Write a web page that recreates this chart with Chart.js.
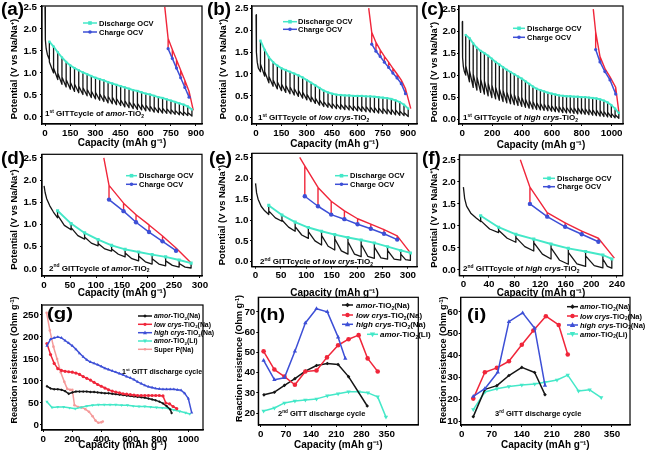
<!DOCTYPE html>
<html><head><meta charset="utf-8">
<script src="https://cdn.jsdelivr.net/npm/chart.js@4.4.1/dist/chart.umd.min.js"></script>
<style>html,body{margin:0;padding:0;background:#fff}body{width:649px;height:454px;position:relative;overflow:hidden}canvas{position:absolute}</style>
</head><body>
<script>
// ================= DATA =================
// ---- (a) 1st GITT amor-TiO2 ----
const initQA = [0,1,3,7,14,26];
const initVA = [2.50,2.05,1.75,1.55,1.42,1.30];
const qA = [26,51,76,101,126,151,176,201,226,251,276,301,326,351,376,401,426,451,476,501,526,551,576,601,626,651,676,701,726,751,776,801,826,851,876];
const ocvA = [1.71,1.60,1.47,1.35,1.25,1.17,1.11,1.06,1.01,0.97,0.93,0.89,0.86,0.83,0.79,0.76,0.73,0.70,0.67,0.64,0.61,0.59,0.56,0.53,0.51,0.48,0.45,0.43,0.40,0.37,0.34,0.31,0.28,0.24,0.17];
const dropA = [1.25,1.11,1.00,0.91,0.85,0.79,0.75,0.70,0.67,0.63,0.59,0.56,0.53,0.50,0.47,0.45,0.42,0.39,0.37,0.35,0.32,0.31,0.29,0.27,0.25,0.23,0.22,0.20,0.19,0.17,0.15,0.13,0.12,0.10];
const endA = [1.00,0.85,0.74,0.68,0.63,0.58,0.55,0.51,0.48,0.44,0.41,0.38,0.35,0.32,0.30,0.28,0.26,0.23,0.21,0.19,0.17,0.16,0.14,0.13,0.11,0.10,0.09,0.08,0.07,0.06,0.05,0.04,0.03,0.02];
const chgQA = [734,759,784,809,834,859];
const chgOcvA = [1.55,1.33,1.11,0.89,0.67,0.45];
const chgPeakA = [1.78,1.53,1.30,1.06,0.83,0.58];
const redEndsA = [[884,0.15],[714,2.50]];

// ---- (b) 1st GITT low crys-TiO2 ----
const initQB = [0,1,3,7,14,26];
const initVB = [2.35,1.85,1.50,1.27,1.13,1.05];
const qB = [26,51,76,101,126,151,176,201,226,251,276,301,326,351,376,401,426,451,476,501,526,551,576,601,626,651,676,701,726,751,776,801,826,851,876,901];
const ocvB = [1.76,1.55,1.38,1.27,1.19,1.13,1.09,1.05,1.01,0.97,0.92,0.86,0.80,0.74,0.68,0.62,0.58,0.55,0.53,0.52,0.51,0.51,0.50,0.50,0.50,0.49,0.49,0.48,0.47,0.46,0.45,0.43,0.40,0.36,0.30,0.21];
const dropB = [1.23,1.06,0.95,0.87,0.82,0.77,0.74,0.71,0.67,0.63,0.59,0.54,0.49,0.45,0.41,0.37,0.35,0.33,0.32,0.31,0.30,0.29,0.28,0.27,0.27,0.26,0.25,0.24,0.23,0.22,0.21,0.20,0.18,0.16,0.12];
const endB = [0.95,0.80,0.72,0.66,0.62,0.58,0.55,0.52,0.49,0.45,0.41,0.37,0.33,0.29,0.26,0.24,0.22,0.21,0.20,0.19,0.18,0.17,0.16,0.15,0.14,0.13,0.12,0.11,0.10,0.09,0.08,0.07,0.06,0.05,0.03];
const chgQB = [685,710,735,760,785,810,835,860,885];
const chgOcvB = [1.68,1.52,1.40,1.27,1.15,1.02,0.91,0.78,0.55];
const chgPeakB = [1.95,1.72,1.55,1.40,1.27,1.13,1.00,0.86,0.66];
const redEndsB = [[916,0.21],[667,2.50]];

// ---- (c) 1st GITT high crys-TiO2 ----
const initQC = [0,1,3,7,14,23];
const initVC = [2.22,1.75,1.40,1.20,1.08,1.00];
const qC = [23,48,73,98,123,148,173,198,223,248,273,298,323,348,373,398,423,448,473,498,523,548,573,598,623,648,673,698,723,748,773,798,823,848,873,898,923,948,973,998,1023,1048];
const ocvC = [1.91,1.84,1.72,1.62,1.55,1.50,1.44,1.37,1.30,1.24,1.18,1.12,1.07,1.02,0.97,0.92,0.86,0.80,0.74,0.69,0.66,0.63,0.60,0.58,0.56,0.54,0.53,0.52,0.52,0.51,0.51,0.50,0.50,0.49,0.48,0.47,0.45,0.42,0.38,0.32,0.24,0.14];
const dropC = [1.22,1.11,1.03,0.96,0.91,0.87,0.82,0.78,0.73,0.69,0.65,0.62,0.59,0.56,0.53,0.50,0.46,0.43,0.40,0.38,0.36,0.34,0.33,0.31,0.30,0.29,0.28,0.27,0.27,0.26,0.26,0.25,0.24,0.23,0.22,0.21,0.20,0.18,0.16,0.13,0.10];
const endC = [0.85,0.72,0.66,0.61,0.57,0.53,0.49,0.46,0.43,0.40,0.37,0.35,0.33,0.31,0.29,0.27,0.25,0.23,0.22,0.21,0.20,0.19,0.18,0.17,0.16,0.15,0.14,0.14,0.13,0.12,0.12,0.11,0.10,0.09,0.08,0.07,0.06,0.05,0.04,0.03,0.02];
const chgQC = [893,922,955,989,1027];
const chgOcvC = [1.58,1.30,1.08,0.89,0.57];
const chgPeakC = [1.98,1.42,1.15,0.96,0.72];
const redEndsC = [[1049,0.14],[877,2.50]];

// ---- (d) 2nd GITT amor-TiO2 ----
const initQD = [0,2,5,11,18,26];
const initVD = [1.87,1.72,1.58,1.42,1.28,1.15];
const qD = [26,52,78,104,130,156,182,208,234,260,283];
const ocvD = [1.31,1.02,0.81,0.66,0.53,0.44,0.38,0.32,0.27,0.20,0.13];
const dropD = [1.21,0.93,0.72,0.57,0.45,0.36,0.29,0.23,0.18,0.12];
const midD = [0.98,0.75,0.58,0.45,0.33,0.23,0.16,0.11,0.08,0.04];
const endD = [0.88,0.67,0.52,0.40,0.27,0.18,0.11,0.07,0.04,0.02];
const chgQD = [125,153,177,202,228,254];
const chgOcvD = [1.56,1.30,1.05,0.83,0.62,0.41];
const chgPeakD = [1.88,1.48,1.22,0.99,0.74,0.47];
const redEndsD = [[283,0.13],[115,2.50]];

// ---- (e) 2nd GITT low crys-TiO2 ----
const initQE = [0,2,5,11,18,26];
const initVE = [1.88,1.65,1.50,1.33,1.22,1.13];
const qE = [26,52,78,104,130,156,182,208,234,260,286,305];
const ocvE = [1.35,1.12,0.95,0.82,0.73,0.65,0.58,0.52,0.45,0.36,0.27,0.21];
const dropE = [1.22,1.00,0.84,0.72,0.63,0.55,0.48,0.42,0.35,0.27,0.18];
const midE = [1.05,0.83,0.64,0.50,0.37,0.26,0.18,0.13,0.09,0.06,0.05];
const endE = [0.97,0.73,0.56,0.40,0.28,0.18,0.12,0.08,0.06,0.04,0.03];
const chgQE = [97,123,149,175,201,227,253,279];
const chgOcvE = [1.57,1.33,1.13,1.02,0.90,0.79,0.67,0.53];
const chgPeakE = [2.30,1.78,1.45,1.22,1.03,0.90,0.77,0.62];
const redEndsE = [[305,0.21],[87,2.50]];

// ---- (f) 2nd GITT high crys-TiO2 ----
const initQF = [0,2,5,12,20,27];
const initVF = [1.88,1.62,1.45,1.28,1.18,1.10];
const qF = [27,55,82,110,137,164,191,218,232];
const ocvF = [1.23,0.97,0.81,0.70,0.59,0.49,0.42,0.34,0.25];
const dropF = [1.12,0.90,0.74,0.62,0.50,0.40,0.32,0.25];
const midF = [0.93,0.72,0.53,0.36,0.22,0.14,0.10,0.08];
const endF = [0.85,0.63,0.43,0.25,0.13,0.08,0.05,0.04];
const chgQF = [104,131,159,185,211];
const chgOcvF = [1.50,1.21,0.98,0.81,0.64];
const chgPeakF = [1.88,1.30,1.07,0.88,0.72];
const redEndsF = [[236,0.27],[89,2.50]];

// ---- (g) reaction resistance, 1st GITT discharge ----
const gAmorNaQ = [25,50,75,100,125,150,175,200,225,250,275,300,325,350,375,400,425,450,475,500,525,550,575,600,625,650,675,700,725,750,775,800,825,850,875,885];
const gAmorNaR = [88,83,81,81,80,77,71,74,76,76,76,76,75,75,74,73,72,72,71,70,69,68,67,66,65,64,63,62,60,58,56,53,49,43,35,27];
const gLowNaQ = [25,50,75,100,125,150,175,200,225,250,275,300,325,350,375,400,425,450,475,500,525,550,575,600,625,650,675,700,725,750,775,800,825,845,870,895,920];
const gLowNaR = [185,160,140,128,124,122,121,120,118,115,110,106,102,97,92,88,84,80,77,75,73,71,70,69,68,67,67,67,67,67,67,67,66,50,48,42,37];
const gHighNaQ = [25,50,75,100,125,150,175,200,225,250,275,300,325,350,375,400,425,450,475,500,525,550,575,600,625,650,675,700,725,750,775,800,825,850,875,900,925,950,975,1000,1023];
const gHighNaR = [180,195,198,200,198,192,186,180,172,163,155,148,143,140,137,133,129,126,123,120,117,114,110,107,103,98,94,90,87,85,83,82,81,81,81,81,80,79,72,60,28];
const gAmorLiQ = [25,60,100,140,180,220,260,300,340,380,420,460,500,540,580,620,660,700,740,780,820,860,900,940,980,1010];
const gAmorLiR = [53,40,41,41,39,37,40,43,45,46,46,46,46,45,45,43,42,42,41,40,39,38,34,31,28,25];
const gSuperPQ = [23,45,70,95,120,145,165,185,200,215,240,265,290,315,340,360,380,400,410];
const gSuperPR = [255,215,178,150,120,98,82,80,80,45,41,40,36,30,20,10,5,6,8];

// ---- (h) 2nd GITT discharge ----
const hAmorNaQ = [9,38,66,95,124,155,185,215,244,296];
const hAmorNaR = [29,30.3,33.7,37,40.7,43.5,44.5,44,38,23.5];
const hLowNaQ = [8,38,66,95,124,155,184,215,244,272,297,325];
const hLowNaR = [50.5,41.5,38,34,40.5,41,47.5,53.5,56.5,58.5,47,40.5];
const hHighNaQ = [8,38,66,95,124,155,185,215,235];
const hHighNaR = [46,36.5,37.5,50.5,64.5,71.5,70,57.5,47];
const hAmorLiQ = [8,38,66,95,124,155,185,215,244,272,298,325,348];
const hAmorLiR = [21,22.5,25,26,26.5,27,28.5,29.5,30.5,30.5,30,28,18];

// ---- (i) 3rd GITT discharge ----
const iAmorNaQ = [27,54,82,110,140,170,194];
const iAmorNaR = [12.3,24.7,26.4,31,34.7,32.4,22.3];
const iLowNaQ = [27,54,82,110,140,167,196,226,247];
const iLowNaR = [20.5,32.5,34.5,37.5,45,51.5,58,54,40.6];
const iHighNaQ = [27,54,84,110,142,170,194];
const iHighNaR = [21.5,25,32.5,55.5,59.5,52.5,26.5];
const iAmorLiQ = [27,54,82,110,140,170,194,222,247,272,298,325];
const iAmorLiR = [15.5,23.5,25,26,26.7,27.2,28,29,31.2,24,24.5,21];

// ---- tick labels ----
const xTicksAB = [0,150,300,450,600,750,900];
const xTicksC = [0,200,400,600,800,1000];
const xTicksDE = [0,50,100,150,200,250,300];
const xTicksF = [0,40,80,120,160,200,240];
const xTicksG = [0,200,400,600,800,1000];
const xTicksHI = [0,70,140,210,280,350];
const yTicksPot = [0,0.5,1,1.5,2,2.5];
const yTicksG = [0,50,100,150,200,250];
const yTicksH = [20,30,40,50,60,70];
const yTicksI = [10,20,30,40,50,60];

// ================= DRAWING =================
const FONT = '"Liberation Sans", Arial, Helvetica, sans-serif';
const C_BLACK = '#151515', C_CYAN = '#44e8c8', C_BLUE = '#3d4fd6', C_RED = '#f0263a', C_PINK = '#f59a9a';

function zip(q, v) { return q.map((x, i) => ({x: x, y: v[i]})); }
function gittLine(iq, iv, q, ocv, drop, mid, end) {
  const pts = zip(iq, iv);
  for (let i = 0; i < q.length; i++) {
    pts.push({x: q[i], y: ocv[i]});
    if (i < q.length - 1) {
      pts.push({x: q[i], y: drop[i]});
      if (mid) pts.push({x: (q[i] + q[i + 1]) / 2, y: mid[i]});
      pts.push({x: q[i + 1], y: end[i]});
    }
  }
  return pts;
}
function chargeLine(ends, q, ocv, peak) {
  const pts = [{x: ends[0][0], y: ends[0][1]}];
  for (let i = q.length - 1; i >= 0; i--) {
    pts.push({x: q[i], y: peak[i]}, {x: q[i], y: ocv[i]}, {x: q[i], y: peak[i]});
  }
  pts.push({x: ends[1][0], y: ends[1][1]});
  return pts;
}
function gittSets(black, red, cq, cv, bq, bv, r, bw) {
  return [
    {data: zip(bq, bv), borderColor: C_BLUE, backgroundColor: C_BLUE, borderWidth: 1.5, pointStyle: 'circle', pointRadius: r, pointBorderWidth: 0, showLine: true},
    {data: zip(cq, cv), borderColor: C_CYAN, backgroundColor: C_CYAN, borderWidth: 1.9, pointStyle: 'rect', pointRadius: r, pointBorderWidth: 0, showLine: true},
    {data: red, borderColor: C_RED, borderWidth: 1.4, pointRadius: 0, showLine: true},
    {data: black, borderColor: C_BLACK, borderWidth: bw, pointRadius: 0, showLine: true}
  ];
}
function resSet(q, v, color, style, r, rot) {
  return {data: zip(q, v), borderColor: color, backgroundColor: color, borderWidth: 1.5, pointStyle: style, pointRadius: r, pointRotation: rot || 0, pointBorderWidth: 0, showLine: true};
}

function rich(ctx, x, y, parts, size, align) {
  const fontFor = (f, s) => (f.includes('i') ? 'italic ' : '') + 'bold ' + s + 'px ' + FONT;
  let w = 0; const segs = [];
  for (const p of parts) {
    const t = p[0], f = p[1] || '';
    const s = (f.includes('^') || f.includes('_')) ? size * 0.62 : size;
    ctx.font = fontFor(f, s);
    const mw = ctx.measureText(t).width;
    segs.push({t, f, s, mw}); w += mw;
  }
  let cx = align === 'center' ? x - w / 2 : x;
  ctx.save(); ctx.fillStyle = '#000'; ctx.textBaseline = 'alphabetic';
  const base = y + size * 0.36;
  for (const sg of segs) {
    ctx.font = fontFor(sg.f, sg.s);
    let yy = base;
    if (sg.f.includes('^')) yy = base - size * 0.4;
    if (sg.f.includes('_')) yy = base + size * 0.22;
    ctx.fillText(sg.t, cx, yy); cx += sg.mw;
  }
  ctx.restore();
}
function vtitle(ctx, x, y, parts, size) {
  ctx.save(); ctx.translate(x, y); ctx.rotate(-Math.PI / 2);
  rich(ctx, 0, 0, parts, size, 'center'); ctx.restore();
}
function marker(ctx, style, x, y, r, color, rot) {
  ctx.save(); ctx.fillStyle = color; ctx.beginPath();
  if (style === 'circle') ctx.arc(x, y, r, 0, Math.PI * 2);
  else if (style === 'rect') ctx.rect(x - r, y - r, 2 * r, 2 * r);
  else if (style === 'rectRot') { ctx.moveTo(x, y - r * 1.3); ctx.lineTo(x + r * 1.3, y); ctx.lineTo(x, y + r * 1.3); ctx.lineTo(x - r * 1.3, y); ctx.closePath(); }
  else if (style === 'triangle') { const s = rot ? -1 : 1; ctx.moveTo(x, y - s * r * 1.2); ctx.lineTo(x + r * 1.1, y + s * r * 0.8); ctx.lineTo(x - r * 1.1, y + s * r * 0.8); ctx.closePath(); }
  ctx.fill(); ctx.restore();
}
function legendRow(ctx, it) {
  ctx.save(); ctx.strokeStyle = it.c; ctx.lineWidth = 1.5; ctx.beginPath(); ctx.moveTo(it.x1, it.y); ctx.lineTo(it.x2, it.y); ctx.stroke(); ctx.restore();
  marker(ctx, it.s, (it.x1 + it.x2) / 2, it.y, it.r, it.c, it.rot);
  rich(ctx, it.tx, it.y, it.parts, it.size);
}
function panelLabel(ctx, x, y, text, size, sx) {
  ctx.save(); ctx.translate(x, y); ctx.scale(sx, 1);
  ctx.font = 'bold ' + size + 'px ' + FONT; ctx.textBaseline = 'top'; ctx.fillStyle = '#000';
  ctx.fillText(text, 0, 0); ctx.restore();
}

function panel(cfg) {
  const b = cfg.box, f = cfg.frame;
  const cv = document.createElement('canvas');
  cv.width = b.w; cv.height = b.h;
  cv.style.left = b.left + 'px'; cv.style.top = b.top + 'px';
  cv.style.width = b.w + 'px'; cv.style.height = b.h + 'px';
  document.body.appendChild(cv);
  const fL = f.L - b.left, fR = f.R - b.left, fT = f.T - b.top, fB = f.B - b.top;
  const tickFont = {family: FONT, size: 9.8, weight: 'bold'};
  const gridOpt = {drawOnChartArea: false, drawTicks: true, tickLength: 2, color: '#000', lineWidth: 1};
  const borderOpt = {display: true, color: '#000', width: 1.2};
  new Chart(cv, {
    type: 'scatter',
    data: {datasets: cfg.datasets},
    options: {
      responsive: false, animation: false, devicePixelRatio: 1,
      layout: {padding: {left: 0, right: b.w - fR, top: fT, bottom: 0}},
      plugins: {legend: {display: false}, tooltip: {enabled: false}},
      elements: {line: {tension: 0, borderJoinStyle: 'round'}},
      scales: {
        x: {
          type: 'linear', min: cfg.xr[0], max: cfg.xr[1],
          afterBuildTicks: s => { s.ticks = cfg.xt.map(v => ({value: v})); },
          afterFit: s => { s.height = b.h - fB; s.paddingLeft = 0; s.paddingRight = 0; },
          grid: gridOpt, border: borderOpt,
          ticks: {font: tickFont, color: '#000', padding: 1, maxRotation: 0, autoSkip: false, callback: v => String(v)},
          title: {display: true, text: 'Capacity (mAh g⁻¹)', color: '#000', font: {family: FONT, size: 10, weight: 'bold'},
                  padding: {top: 0, bottom: (b.top + b.h) - cfg.xtY - 6}}
        },
        y: {
          type: 'linear', min: cfg.yr[0], max: cfg.yr[1],
          afterBuildTicks: s => { s.ticks = cfg.yt.map(v => ({value: v})); },
          afterFit: s => { s.width = fL; s.paddingTop = 0; s.paddingBottom = 0; },
          grid: gridOpt, border: borderOpt,
          ticks: {font: tickFont, color: '#000', padding: cfg.ypad, autoSkip: false, callback: cfg.yfmt},
          title: {display: false}
        }
      }
    },
    plugins: [{
      id: 'deco',
      afterDraw(chart) {
        const ctx = chart.ctx, a = chart.chartArea;
        ctx.save();
        ctx.strokeStyle = '#000'; ctx.lineWidth = 1.2;
        ctx.strokeRect(a.left, a.top, a.right - a.left, a.bottom - a.top);
        ctx.translate(-b.left, -b.top);
        vtitle(ctx, cfg.yt_pos[0], cfg.yt_pos[1], cfg.ytitle, cfg.ytSize);
        panelLabel(ctx, cfg.label[0], cfg.label[1], cfg.label[2], cfg.label[3], cfg.label[4]);
        (cfg.legend || []).forEach(it => legendRow(ctx, it));
        if (cfg.note) rich(ctx, cfg.note.x, cfg.note.y, cfg.note.parts, cfg.note.size);
        ctx.restore();
      }
    }]
  });
}

const POT = [['Potential (V vs Na/Na'], ['+', '^'], [')']];
const RES = [['Reaction resistence (Ohm g'], ['-1', '^'], [')']];
const f1 = v => Number(v).toFixed(1);
const f0 = v => String(v);
function ocvLegend(x1, x2, tx, y1, y2) {
  return [
    {x1, x2, tx, y: y1, c: C_CYAN, s: 'rect', r: 1.8, parts: [['Discharge OCV']], size: 7.5},
    {x1, x2, tx, y: y2, c: C_BLUE, s: 'circle', r: 1.8, parts: [['Charge OCV']], size: 7.5}
  ];
}
const T2 = [['-TiO'], ['2', '_']];
function lbl(pre, sup, mat) { return [[pre], [sup, '^'], [' GITTcycle of '], [mat, 'i']].concat(T2); }

// (a)
panel({box: {left: 0, top: 0, w: 215, h: 152}, frame: {L: 42, R: 202, T: 6, B: 124},
  xr: [-18, 936], yr: [-0.16, 2.52], xt: xTicksAB, yt: yTicksPot, yfmt: f1, ypad: 3,
  ytitle: POT, ytSize: 9.4, yt_pos: [14, 69], xtY: 143,
  datasets: gittSets(gittLine(initQA, initVA, qA, ocvA, dropA, null, endA), chargeLine(redEndsA, chgQA, chgOcvA, chgPeakA), qA, ocvA, chgQA, chgOcvA, 1.6, 1.3),
  label: [1, 1, '(a)', 18, 1.05], legend: ocvLegend(83, 97, 99, 23, 32),
  note: {x: 45, y: 113, size: 8, parts: lbl('1', 'st', 'amor')}});
// (b)
panel({box: {left: 204, top: 0, w: 221, h: 152}, frame: {L: 252, R: 417, T: 6, B: 124},
  xr: [-24, 953], yr: [-0.14, 2.55], xt: xTicksAB, yt: yTicksPot, yfmt: f1, ypad: 1.5,
  ytitle: POT, ytSize: 9.4, yt_pos: [222.3, 69], xtY: 144.5,
  datasets: gittSets(gittLine(initQB, initVB, qB, ocvB, dropB, null, endB), chargeLine(redEndsB, chgQB, chgOcvB, chgPeakB), qB, ocvB, chgQB, chgOcvB, 1.6, 1.3),
  label: [207, 1, '(b)', 18, 1.05], legend: ocvLegend(283, 297, 298, 21.7, 29.3),
  note: {x: 258, y: 117, size: 8, parts: lbl('1', 'st', 'low crys')}});
// (c)
panel({box: {left: 418, top: 0, w: 231, h: 152}, frame: {L: 459, R: 623, T: 6, B: 124},
  xr: [-22, 1076], yr: [-0.11, 2.57], xt: xTicksC, yt: yTicksPot, yfmt: f1, ypad: 1,
  ytitle: POT, ytSize: 9.4, yt_pos: [433.5, 72], xtY: 145.5,
  datasets: gittSets(gittLine(initQC, initVC, qC, ocvC, dropC, null, endC), chargeLine(redEndsC, chgQC, chgOcvC, chgPeakC), qC, ocvC, chgQC, chgOcvC, 1.6, 1.3),
  label: [421, 1, '(c)', 18, 1.05], legend: ocvLegend(513, 525, 527, 28.3, 37.3),
  note: {x: 463, y: 117, size: 8, parts: lbl('1', 'st', 'high crys')}});
// (d)
panel({box: {left: 0, top: 145, w: 215, h: 155}, frame: {L: 42, R: 202, T: 154.3, B: 276},
  xr: [-4, 304], yr: [-0.16, 2.58], xt: xTicksDE, yt: yTicksPot, yfmt: f1, ypad: 3,
  ytitle: POT, ytSize: 9.4, yt_pos: [14, 219.5], xtY: 293.5,
  datasets: gittSets(gittLine(initQD, initVD, qD, ocvD, dropD, midD, endD), chargeLine(redEndsD, chgQD, chgOcvD, chgPeakD), qD, ocvD, chgQD, chgOcvD, 2.2, 1.3),
  label: [1, 150, '(d)', 18, 1.05], legend: ocvLegend(126, 137, 139, 175.7, 184.3),
  note: {x: 49, y: 267.7, size: 8, parts: lbl('2', 'nd', 'amor')}});
// (e)
panel({box: {left: 204, top: 145, w: 221, h: 155}, frame: {L: 252, R: 417, T: 153.3, B: 266.7},
  xr: [-7, 318], yr: [-0.12, 2.60], xt: xTicksDE, yt: yTicksPot, yfmt: f1, ypad: 1.5,
  ytitle: POT, ytSize: 9.4, yt_pos: [221.7, 215], xtY: 293.5,
  datasets: gittSets(gittLine(initQE, initVE, qE, ocvE, dropE, midE, endE), chargeLine(redEndsE, chgQE, chgOcvE, chgPeakE), qE, ocvE, chgQE, chgOcvE, 2.2, 1.3),
  label: [209, 150, '(e)', 18, 1.05], legend: ocvLegend(335, 348, 350, 175.7, 184.3),
  note: {x: 260, y: 261, size: 8, parts: lbl('2', 'nd', 'low crys')}});
// (f)
panel({box: {left: 418, top: 145, w: 231, h: 155}, frame: {L: 459.3, R: 622.7, T: 155, B: 275.7},
  xr: [-6.4, 249], yr: [-0.13, 2.61], xt: xTicksF, yt: yTicksPot, yfmt: f1, ypad: 1.5,
  ytitle: POT, ytSize: 9.4, yt_pos: [433.5, 217.5], xtY: 293.5,
  datasets: gittSets(gittLine(initQF, initVF, qF, ocvF, dropF, midF, endF), chargeLine(redEndsF, chgQF, chgOcvF, chgPeakF), qF, ocvF, chgQF, chgOcvF, 2.2, 1.3),
  label: [422, 150, '(f)', 18, 1.05], legend: ocvLegend(543, 555, 557, 178.3, 186.7),
  note: {x: 463, y: 268, size: 8, parts: lbl('2', 'nd', 'high crys')}});

// (g)
const LG = (mat, tail) => [[mat, 'i']].concat(T2, [[tail]]);
panel({box: {left: 0, top: 290, w: 215, h: 164}, frame: {L: 42, R: 203, T: 305, B: 430},
  xr: [-9, 1101], yr: [-11.4, 272.7], xt: xTicksG, yt: yTicksG, yfmt: f0, ypad: 1,
  ytitle: RES, ytSize: 9, yt_pos: [14, 360], xtY: 445,
  datasets: [
    resSet(gHighNaQ, gHighNaR, C_BLUE, 'triangle', 1.8),
    resSet(gLowNaQ, gLowNaR, C_RED, 'circle', 1.6),
    resSet(gAmorNaQ, gAmorNaR, C_BLACK, 'rectRot', 1.4),
    resSet(gAmorLiQ, gAmorLiR, C_CYAN, 'triangle', 1.8, 180),
    resSet(gSuperPQ, gSuperPR, C_PINK, 'circle', 1.3)
  ],
  label: [47, 306, '(g)', 17, 1.2],
  legend: [
    {x1: 138, x2: 152, tx: 154, y: 316, c: C_BLACK, s: 'rectRot', r: 1.4, parts: LG('amor', '(Na)'), size: 6.9},
    {x1: 138, x2: 152, tx: 154, y: 324.3, c: C_RED, s: 'circle', r: 1.6, parts: LG('low crys', '(Na)'), size: 6.9},
    {x1: 138, x2: 152, tx: 154, y: 332.7, c: C_BLUE, s: 'triangle', r: 1.8, parts: LG('high crys', '(Na)'), size: 6.9},
    {x1: 138, x2: 152, tx: 154, y: 341, c: C_CYAN, s: 'triangle', r: 1.8, rot: 180, parts: LG('amor', '(Li)'), size: 6.9},
    {x1: 138, x2: 152, tx: 154, y: 349.3, c: C_PINK, s: 'circle', r: 1.3, parts: [['Super P(Na)']], size: 6.9}
  ],
  note: {x: 122, y: 371, size: 7, parts: [['1'], ['st', '^'], [' GITT discharge cycle']]}});
// (h)
panel({box: {left: 228, top: 290, w: 212, h: 164}, frame: {L: 258.3, R: 418.3, T: 297.3, B: 425},
  xr: [-6.7, 437.8], yr: [14.1, 77.2], xt: xTicksHI, yt: yTicksH, yfmt: f0, ypad: 1,
  ytitle: RES, ytSize: 9, yt_pos: [239, 358.5], xtY: 445,
  datasets: [
    resSet(hHighNaQ, hHighNaR, C_BLUE, 'triangle', 2.5),
    resSet(hLowNaQ, hLowNaR, C_RED, 'circle', 2.3),
    resSet(hAmorNaQ, hAmorNaR, C_BLACK, 'rectRot', 1.8),
    resSet(hAmorLiQ, hAmorLiR, C_CYAN, 'triangle', 2.5, 180)
  ],
  label: [260, 307, '(h)', 17, 1.15],
  legend: [
    {x1: 342, x2: 353, tx: 356, y: 305, c: C_BLACK, s: 'rectRot', r: 1.8, parts: LG('amor', '(Na)'), size: 8},
    {x1: 342, x2: 353, tx: 356, y: 315, c: C_RED, s: 'circle', r: 2.2, parts: LG('low crys', '(Na)'), size: 8},
    {x1: 342, x2: 353, tx: 356, y: 324.3, c: C_BLUE, s: 'triangle', r: 2.4, parts: LG('high crys', '(Na)'), size: 8},
    {x1: 367, x2: 378, tx: 380, y: 334.3, c: C_CYAN, s: 'triangle', r: 2.4, rot: 180, parts: LG('amor', '(LI)'), size: 8}
  ],
  note: {x: 278, y: 413, size: 7.5, parts: [['2'], ['nd', '^'], [' GITT discharge cycle']]}});
// (i)
panel({box: {left: 432, top: 290, w: 217, h: 164}, frame: {L: 460.7, R: 630, T: 297.3, B: 425},
  xr: [-2.3, 392], yr: [8.5, 66.6], xt: xTicksHI, yt: yTicksI, yfmt: f0, ypad: 0.5,
  ytitle: RES, ytSize: 9, yt_pos: [443, 360], xtY: 445,
  datasets: [
    resSet(iHighNaQ, iHighNaR, C_BLUE, 'triangle', 2.5),
    resSet(iLowNaQ, iLowNaR, C_RED, 'circle', 2.3),
    resSet(iAmorNaQ, iAmorNaR, C_BLACK, 'rectRot', 1.8),
    resSet(iAmorLiQ, iAmorLiR, C_CYAN, 'triangle', 2.5, 180)
  ],
  label: [467, 307, '(i)', 17, 1.2],
  legend: [
    {x1: 567, x2: 578, tx: 580, y: 306.7, c: C_BLACK, s: 'rectRot', r: 1.8, parts: LG('amor', '(Na)'), size: 7.5},
    {x1: 567, x2: 578, tx: 580, y: 316, c: C_RED, s: 'circle', r: 2.2, parts: LG('low crys', '(Na)'), size: 7.5},
    {x1: 567, x2: 578, tx: 580, y: 325, c: C_BLUE, s: 'triangle', r: 2.4, parts: LG('high crys', '(Na)'), size: 7.5},
    {x1: 567, x2: 578, tx: 580, y: 334, c: C_CYAN, s: 'triangle', r: 2.4, rot: 180, parts: LG('amor', '(Li)'), size: 7.5}
  ],
  note: {x: 495, y: 413, size: 7.5, parts: [['3'], ['rd', '^'], [' GITT discharge cycle']]}});
</script>
</body></html>
